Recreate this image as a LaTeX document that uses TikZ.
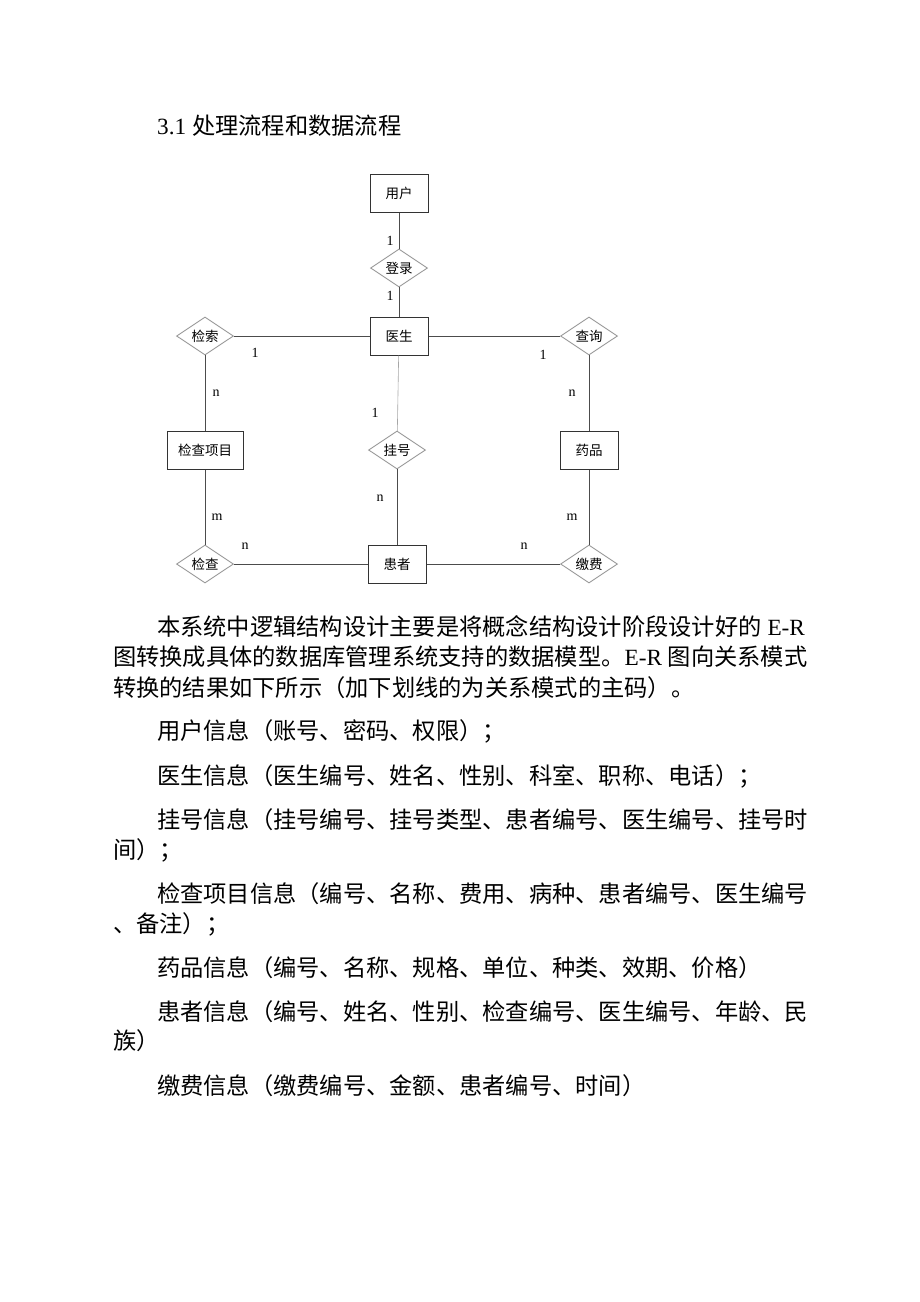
\documentclass[tikz,border=0pt]{standalone}
\usepackage{fontspec}
\setmainfont{Liberation Serif}
\newfontfamily\cjk{Noto Sans CJK SC}
\usetikzlibrary{shapes.geometric}
\newcommand{\bodyfont}{\fontsize{23.25pt}{28pt}\selectfont}
\newcommand{\erfont}{\cjk\fontsize{13.5pt}{15pt}\selectfont}
\begin{document}
\begin{tikzpicture}[x=1pt,y=-1pt,
 entity/.style={draw=black!80,line width=1pt,minimum width=58pt,minimum height=38pt,inner xsep=11pt,font=\erfont},
 relation/.style={diamond,draw=black!40,line width=0.9pt,aspect=1.5,minimum width=57pt,minimum height=38pt,inner sep=0pt,font=\erfont},
 link/.style={draw=black!70,line width=1pt},
 card/.style={inner sep=0pt,font=\fontsize{14pt}{16pt}\selectfont},
 textline/.style={anchor=west,inner sep=0pt,font=\bodyfont}]
 \useasboundingbox (0,0) rectangle (920,1302);
 % heading
 \node[textline] (title) at (157,126) {3.1 {\cjk 处理流程和数据流程}};
 % E-R diagram
 \node[entity] (user) at (399,193) {用户};
 \node[relation] (login) at (399,268) {登录};
 \node[entity] (doctor) at (399,336) {医生};
 \node[relation] (search) at (205,336) {检索};
 \node[relation] (query) at (589,336) {查询};
 \node[entity] (item) at (205,450) {检查项目};
 \node[relation] (register) at (397,450) {挂号};
 \node[entity] (drug) at (589,450) {药品};
 \node[relation] (check) at (205,564) {检查};
 \node[entity] (patient) at (397,564) {患者};
 \node[relation] (pay) at (589,564) {缴费};
 \draw[link] (user) -- (login);
 \draw[link] (login) -- (doctor);
 \draw[link] (search) -- (doctor);
 \draw[link] (doctor) -- (query);
 \draw[link] (search) -- (item);
 \draw[draw=black!35,line width=0.6pt] (doctor) -- (register);
 \draw[link] (register) -- (patient);
 \draw[link] (query) -- (drug);
 \draw[link] (item) -- (check);
 \draw[link] (check) -- (patient);
 \draw[link] (patient) -- (pay);
 \draw[link] (drug) -- (pay);
 % cardinalities
 \node[card] (c1) at (390,241) {1};
 \node[card] (c2) at (390,296) {1};
 \node[card] (c3) at (255,353) {1};
 \node[card] (c4) at (216,393) {n};
 \node[card] (c5) at (375,413) {1};
 \node[card] (c6) at (543,355) {1};
 \node[card] (c7) at (572,393) {n};
 \node[card] (c8) at (380,498) {n};
 \node[card] (c9) at (217,517) {m};
 \node[card] (c10) at (245,546) {n};
 \node[card] (c11) at (572,517) {m};
 \node[card] (c12) at (524,546) {n};
 % body text
 \node[textline] (p1) at (157,627) {{\cjk 本系统中逻辑结构设计主要是将概念结构设计阶段设计好的} E-R};
 \node[textline] (p2) at (113,657) {{\cjk 图转换成具体的数据库管理系统支持的数据模型。}E-R {\cjk 图向关系模式}};
 \node[textline] (p3) at (113,688) {\cjk 转换的结果如下所示（加下划线的为关系模式的主码）。};
 \node[textline] (r1) at (157,731) {\cjk 用户信息（账号、密码、权限）；};
 \node[textline] (r2) at (157,776) {\cjk 医生信息（医生编号、姓名、性别、科室、职称、电话）；};
 \node[textline] (r3) at (157,820) {\cjk 挂号信息（挂号编号、挂号类型、患者编号、医生编号、挂号时};
 \node[textline] (r3b) at (113,850) {\cjk 间）；};
 \node[textline] (r4) at (157,894) {\cjk 检查项目信息（编号、名称、费用、病种、患者编号、医生编号};
 \node[textline] (r4b) at (113,924) {\cjk 、备注）；};
 \node[textline] (r5) at (157,968) {\cjk 药品信息（编号、名称、规格、单位、种类、效期、价格）};
 \node[textline] (r6) at (157,1012) {\cjk 患者信息（编号、姓名、性别、检查编号、医生编号、年龄、民};
 \node[textline] (r6b) at (113,1041) {\cjk 族）};
 \node[textline] (r7) at (157,1086) {\cjk 缴费信息（缴费编号、金额、患者编号、时间）};
\end{tikzpicture}
\end{document}
